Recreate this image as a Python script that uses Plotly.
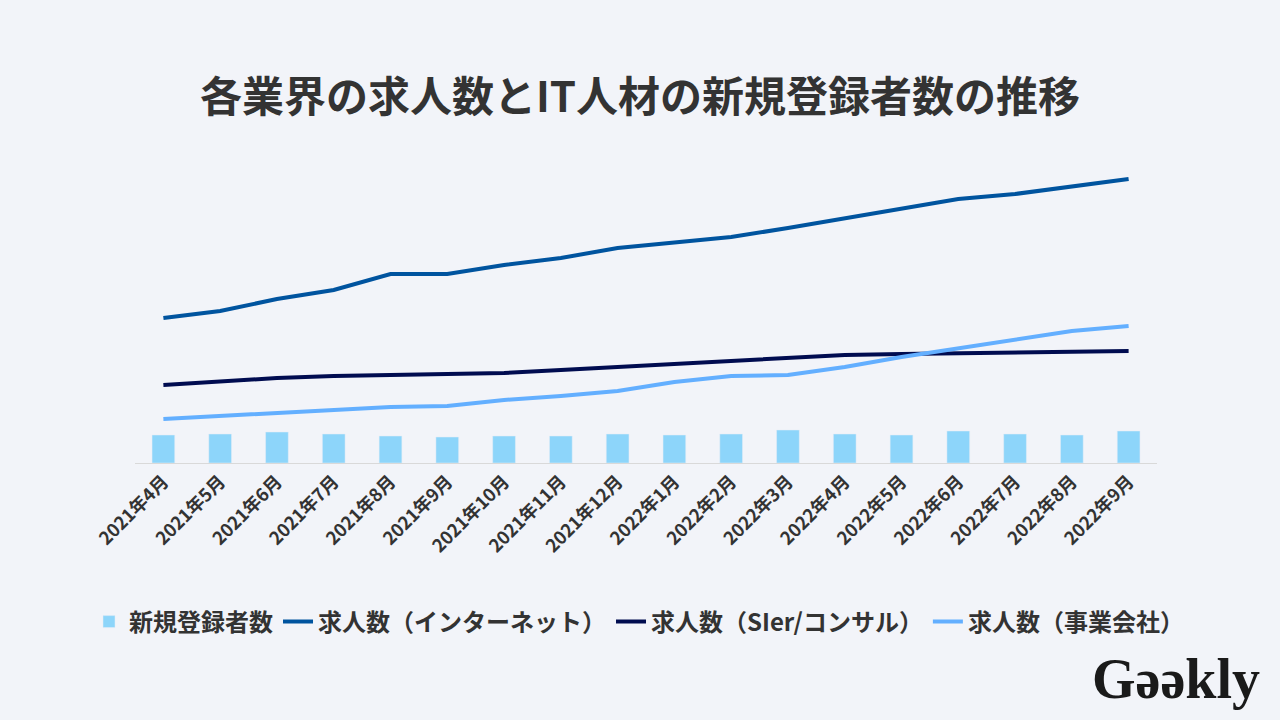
import plotly.graph_objects as go

months = ['2021年4月', '2021年5月', '2021年6月', '2021年7月', '2021年8月', '2021年9月',
          '2021年10月', '2021年11月', '2021年12月', '2022年1月', '2022年2月', '2022年3月',
          '2022年4月', '2022年5月', '2022年6月', '2022年7月', '2022年8月', '2022年9月']
new_registrations = [28, 29, 31, 29, 27, 26, 27, 27, 29, 28, 29, 33, 29, 28, 32, 29, 28, 32]
jobs_internet = [145, 152, 164, 173, 189, 189, 198, 205, 215, 221, 226, 235, 245, 254, 264, 269, 277, 284]
jobs_sier = [78, 82, 85, 87, 88, 90, 90, 93, 96, 100, 103, 106, 108, 109, 110, 111, 112, 112]
jobs_company = [44, 47, 51, 54, 56, 57, 63, 67, 72, 81, 87, 88, 96, 106, 115, 124, 132, 137]

BG = '#F2F4F9'
FONT = 'Noto Sans CJK JP'

fig = go.Figure()
fig.add_trace(go.Bar(x=months, y=new_registrations, name='新規登録者数',
                     marker_color='#8DD5FA', width=0.4))
fig.add_trace(go.Scatter(x=months, y=jobs_internet, mode='lines', name='求人数（インターネット）',
                         line=dict(color='#00549F', width=4)))
fig.add_trace(go.Scatter(x=months, y=jobs_sier, mode='lines', name='求人数（SIer/コンサル）',
                         line=dict(color='#000C50', width=4)))
fig.add_trace(go.Scatter(x=months, y=jobs_company, mode='lines', name='求人数（事業会社）',
                         line=dict(color='#63AFFF', width=4)))

fig.update_layout(
    width=1280, height=720,
    paper_bgcolor=BG, plot_bgcolor=BG,
    margin=dict(l=135, r=123, t=150, b=257),
    font=dict(family=FONT, color='#333333'),
    title=dict(text='<b>各業界の求人数とIT人材の新規登録者数の推移</b>', x=0.5, xanchor='center',
               y=0.865, yanchor='middle', font=dict(size=42, color='#333333', family=FONT)),
    showlegend=True,
    legend=dict(orientation='h', x=-0.045, xanchor='left', y=-0.508, yanchor='middle',
                font=dict(size=24, color='#333333', family=FONT, weight='bold'),
                bgcolor='rgba(0,0,0,0)', traceorder='normal', itemwidth=30),
    bargap=0.6,
)
fig.update_xaxes(tickangle=-45, showgrid=False, showline=True, linecolor='#D9D9D9', linewidth=1,
                 ticks='', tickfont=dict(size=18, color='#333333', family=FONT, weight='bold'),
                 range=[-0.5, 17.5])
fig.update_yaxes(visible=False, range=[0, 313], showgrid=False, zeroline=False)

# logo
fig.add_annotation(text='<b>Gəəkly</b>', xref='paper', yref='paper', x=1.103, xanchor='right',
                   y=-0.69, yanchor='middle', showarrow=False,
                   font=dict(family='Liberation Serif', size=56, color='#1A1A1A'))

fig.write_html('out.html', config={'displayModeBar': False},
               post_script="document.body.style.margin='0';")
